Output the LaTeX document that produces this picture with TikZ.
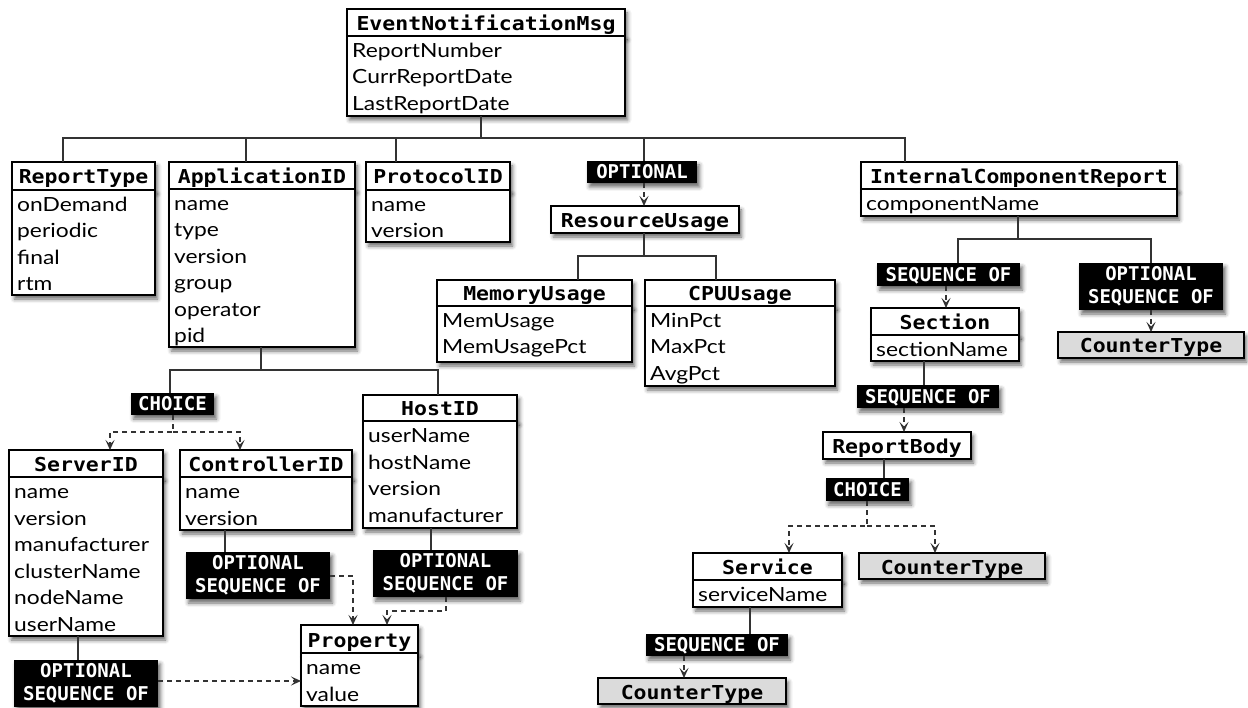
\documentclass[tikz,border=0pt]{standalone}
\usepackage{fontspec}
\usetikzlibrary{arrows.meta,shadows.blur}
\newfontfamily\titlefont[FakeStretch=1.12]{DejaVu Sans Mono Bold}
\newfontfamily\tagfont{DejaVu Sans Mono Bold}
\newfontfamily\fieldfont[FakeStretch=1.17]{Lato}

% class box: name, x1, y1, x2, y-separator, y2, title, list of fields
\newcommand\umlbox[8]{%
  \node[hdr, minimum width={#4-#2}, minimum height={#5-#3}] (#1) at ({(#2+#4)/2},{(#3+#5)/2}) {#7};
  \node[body, minimum width={#4-#2}, minimum height={#6-#5}] (#1-b) at ({(#2+#4)/2},{(#5+#6)/2}) {};
  \foreach \fld [count=\i] in {#8} {\node[fieldtxt] (#1-f\i) at ({#2+5},{#5+21.5+(\i-1)*26.5}) {\fld};}%
}
% header-only box: name, x1, y1, x2, y2, extra style, title
\newcommand\typebox[7]{%
  \node[hdr, #6, minimum width={#4-#2}, minimum height={#5-#3}] (#1) at ({(#2+#4)/2},{(#3+#5)/2}) {#7};
}
% black keyword tag: name, x1, y1, x2, y2, style, text
\newcommand\kwtag[7]{%
  \node[#6, minimum width={#4-#2}, minimum height={#5-#3}] (#1) at ({(#2+#4)/2},{(#3+#5)/2}) {#7};
}

\begin{document}
\begin{tikzpicture}[x=1pt, y=-1pt,
  shade/.style={blur shadow={shadow xshift=2.5pt, shadow yshift=-4pt, shadow blur radius=4pt, shadow opacity=60}},
  hdr/.style={draw, line width=1.3pt, fill=white, inner sep=0pt, outer sep=0pt, shade,
    font=\titlefont\fontsize{19.2}{23}\selectfont, text height=16pt, text depth=0pt},
  body/.style={draw, line width=1.3pt, fill=white, inner sep=0pt, outer sep=0pt, shade},
  fieldtxt/.style={anchor=base west, inner sep=0pt, font=\fieldfont\fontsize{19.5}{26.5}\selectfont},
  counter/.style={fill=black!14},
  tag/.style={fill=black, text=white, inner sep=0pt, outer sep=0pt, shade, align=center,
    font=\tagfont\fontsize{19}{22.5}\selectfont},
  tagone/.style={tag, text height=13.7pt, text depth=0pt},
  link/.style={draw=black!80, line width=1.2pt},
  dlink/.style={link, dash pattern=on 5pt off 4pt, -{Stealth[length=10pt, width=9pt, inset=4.5pt]}},
]
\useasboundingbox (0,0) rectangle (1248,708);

% ---------- root message ----------
\umlbox{enm}{347}{9}{625}{36}{116}{EventNotificationMsg}{ReportNumber,CurrReportDate,LastReportDate}

% ---------- first level ----------
\umlbox{rt}{12}{162}{155}{190}{295}{ReportType}{onDemand,periodic,final,rtm}
\umlbox{aid}{169}{162}{355}{189}{347}{ApplicationID}{name,type,version,group,operator,pid}
\umlbox{pid}{366}{162}{510}{190}{242}{ProtocolID}{name,version}
\kwtag{tRU}{587}{161}{697}{183}{tagone}{OPTIONAL}
\typebox{ru}{551}{206}{739}{233}{}{ResourceUsage}
\umlbox{icr}{861}{162}{1177}{189}{216}{InternalComponentReport}{componentName}

% ---------- resource usage ----------
\umlbox{mu}{437}{280}{632}{306}{362}{MemoryUsage}{MemUsage,MemUsagePct}
\umlbox{cpu}{645}{280}{835}{306}{386}{CPUUsage}{MinPct,MaxPct,AvgPct}

% ---------- internal component report ----------
\kwtag{tSec}{877}{263}{1020}{286}{tagone}{SEQUENCE OF}
\kwtag{tCT1}{1079}{263}{1223}{310}{tag}{OPTIONAL\\SEQUENCE OF}
\umlbox{sec}{871}{308}{1019}{335}{361}{Section}{sectionName}
\typebox{ct1}{1058}{332}{1244}{358}{counter}{CounterType}
\kwtag{tRB}{857}{385}{999}{408}{tagone}{SEQUENCE OF}
\typebox{rb}{823}{432}{971}{459}{}{ReportBody}
\kwtag{tChR}{826}{478}{909}{501}{tagone}{CHOICE}
\umlbox{svc}{693}{553}{842}{580}{607}{Service}{serviceName}
\typebox{ct2}{859}{553}{1045}{579}{counter}{CounterType}
\kwtag{tCT3}{646}{634}{788}{656}{tagone}{SEQUENCE OF}
\typebox{ct3}{598}{678}{786}{704}{counter}{CounterType}

% ---------- application id ----------
\kwtag{tChL}{131}{393}{214}{415}{tagone}{CHOICE}
\umlbox{host}{363}{395}{517}{421}{528}{HostID}{userName,hostName,version,manufacturer}
\umlbox{srv}{9}{450}{163}{477}{636}{ServerID}{name,version,manufacturer,clusterName,nodeName,userName}
\umlbox{ctrl}{180}{450}{352}{477}{530}{ControllerID}{name,version}
\kwtag{tCtrl}{186}{552}{330}{599}{tag}{OPTIONAL\\SEQUENCE OF}
\kwtag{tHost}{373}{550}{518}{597}{tag}{OPTIONAL\\SEQUENCE OF}
\kwtag{tSrv}{14}{660}{158}{707}{tag}{OPTIONAL\\SEQUENCE OF}
\umlbox{prop}{301}{625}{418}{653}{706}{Property}{name,value}

% ---------- bend points ----------
\coordinate (rootBus) at (481,138);
\coordinate (bRT) at (63,138);
\coordinate (bAID) at (246,138);
\coordinate (bPID) at (396,138);
\coordinate (bOPT) at (644,138);
\coordinate (bICR) at (905,138);
\coordinate (ruBus) at (644,256);
\coordinate (bMU) at (578,256);
\coordinate (bCPU) at (716,256);
\coordinate (icrBus) at (1018,239);
\coordinate (bSec) at (958,239);
\coordinate (bCT1) at (1151,239);
\coordinate (secIn) at (946,0);
\coordinate (secOut) at (924,0);
\coordinate (rbIn) at (904,0);
\coordinate (rbOut) at (884,0);
\coordinate (chR) at (867,526);
\coordinate (chRa) at (789,526);
\coordinate (chRb) at (935,526);
\coordinate (svcOut) at (750,0);
\coordinate (ct3In) at (684,0);
\coordinate (aidBus) at (261,370);
\coordinate (bChL) at (170,370);
\coordinate (bHost) at (438,370);
\coordinate (chL) at (173,432);
\coordinate (chLa) at (110,432);
\coordinate (chLb) at (240,432);
\coordinate (ctrlOut) at (225,0);
\coordinate (cq) at (353,576);
\coordinate (hostOut) at (431,0);
\coordinate (hq1) at (446,611);
\coordinate (hq2) at (387,611);
\coordinate (srvOut) at (78,0);
\coordinate (sq) at (301,681);

% ---------- connectors ----------
\draw[link] (rootBus |- enm-b.south) -- (rootBus);
\draw[link] (bRT |- rt.north) -- (bRT) -- (bICR) -- (bICR |- icr.north);
\draw[link] (bAID) -- (bAID |- aid.north);
\draw[link] (bPID) -- (bPID |- pid.north);
\draw[link] (bOPT) -- (bOPT |- tRU.north);
\draw[dlink] (bOPT |- tRU.south) -- (bOPT |- ru.north);

\draw[link] (ruBus |- ru.south) -- (ruBus);
\draw[link] (bMU |- mu.north) -- (bMU) -- (bCPU) -- (bCPU |- cpu.north);

\draw[link] (icrBus |- icr-b.south) -- (icrBus);
\draw[link] (bSec |- tSec.north) -- (bSec) -- (bCT1) -- (bCT1 |- tCT1.north);
\draw[dlink] (secIn |- tSec.south) -- (secIn |- sec.north);
\draw[dlink] (tCT1.south -| ct1.north) -- (ct1.north);
\draw[link] (secOut |- sec-b.south) -- (secOut |- tRB.north);
\draw[dlink] (rbIn |- tRB.south) -- (rbIn |- rb.north);
\draw[link] (rbOut |- rb.south) -- (rbOut |- tChR.north);
\draw[dlink] (chR |- tChR.south) -- (chR) -| (chRa |- svc.north);
\draw[dlink] (chR) -| (chRb |- ct2.north);
\draw[link] (svcOut |- svc-b.south) -- (svcOut |- tCT3.north);
\draw[dlink] (ct3In |- tCT3.south) -- (ct3In |- ct3.north);

\draw[link] (aidBus |- aid-b.south) -- (aidBus);
\draw[link] (bChL |- tChL.north) -- (bChL) -- (bHost) -- (bHost |- host.north);
\draw[dlink] (chL |- tChL.south) -- (chL) -| (chLa |- srv.north);
\draw[dlink] (chL) -| (chLb |- ctrl.north);
\draw[link] (ctrlOut |- ctrl-b.south) -- (ctrlOut |- tCtrl.north);
\draw[dlink] (tCtrl.east |- cq) -- (cq) -- (cq |- prop.north);
\draw[link] (hostOut |- host-b.south) -- (hostOut |- tHost.north);
\draw[dlink] (hq1 |- tHost.south) -- (hq1) -- (hq2) -- (hq2 |- prop.north);
\draw[link] (srvOut |- srv-b.south) -- (srvOut |- tSrv.north);
\draw[dlink] (tSrv.east |- sq) -- (prop-b.west |- sq);
\end{tikzpicture}
\end{document}
